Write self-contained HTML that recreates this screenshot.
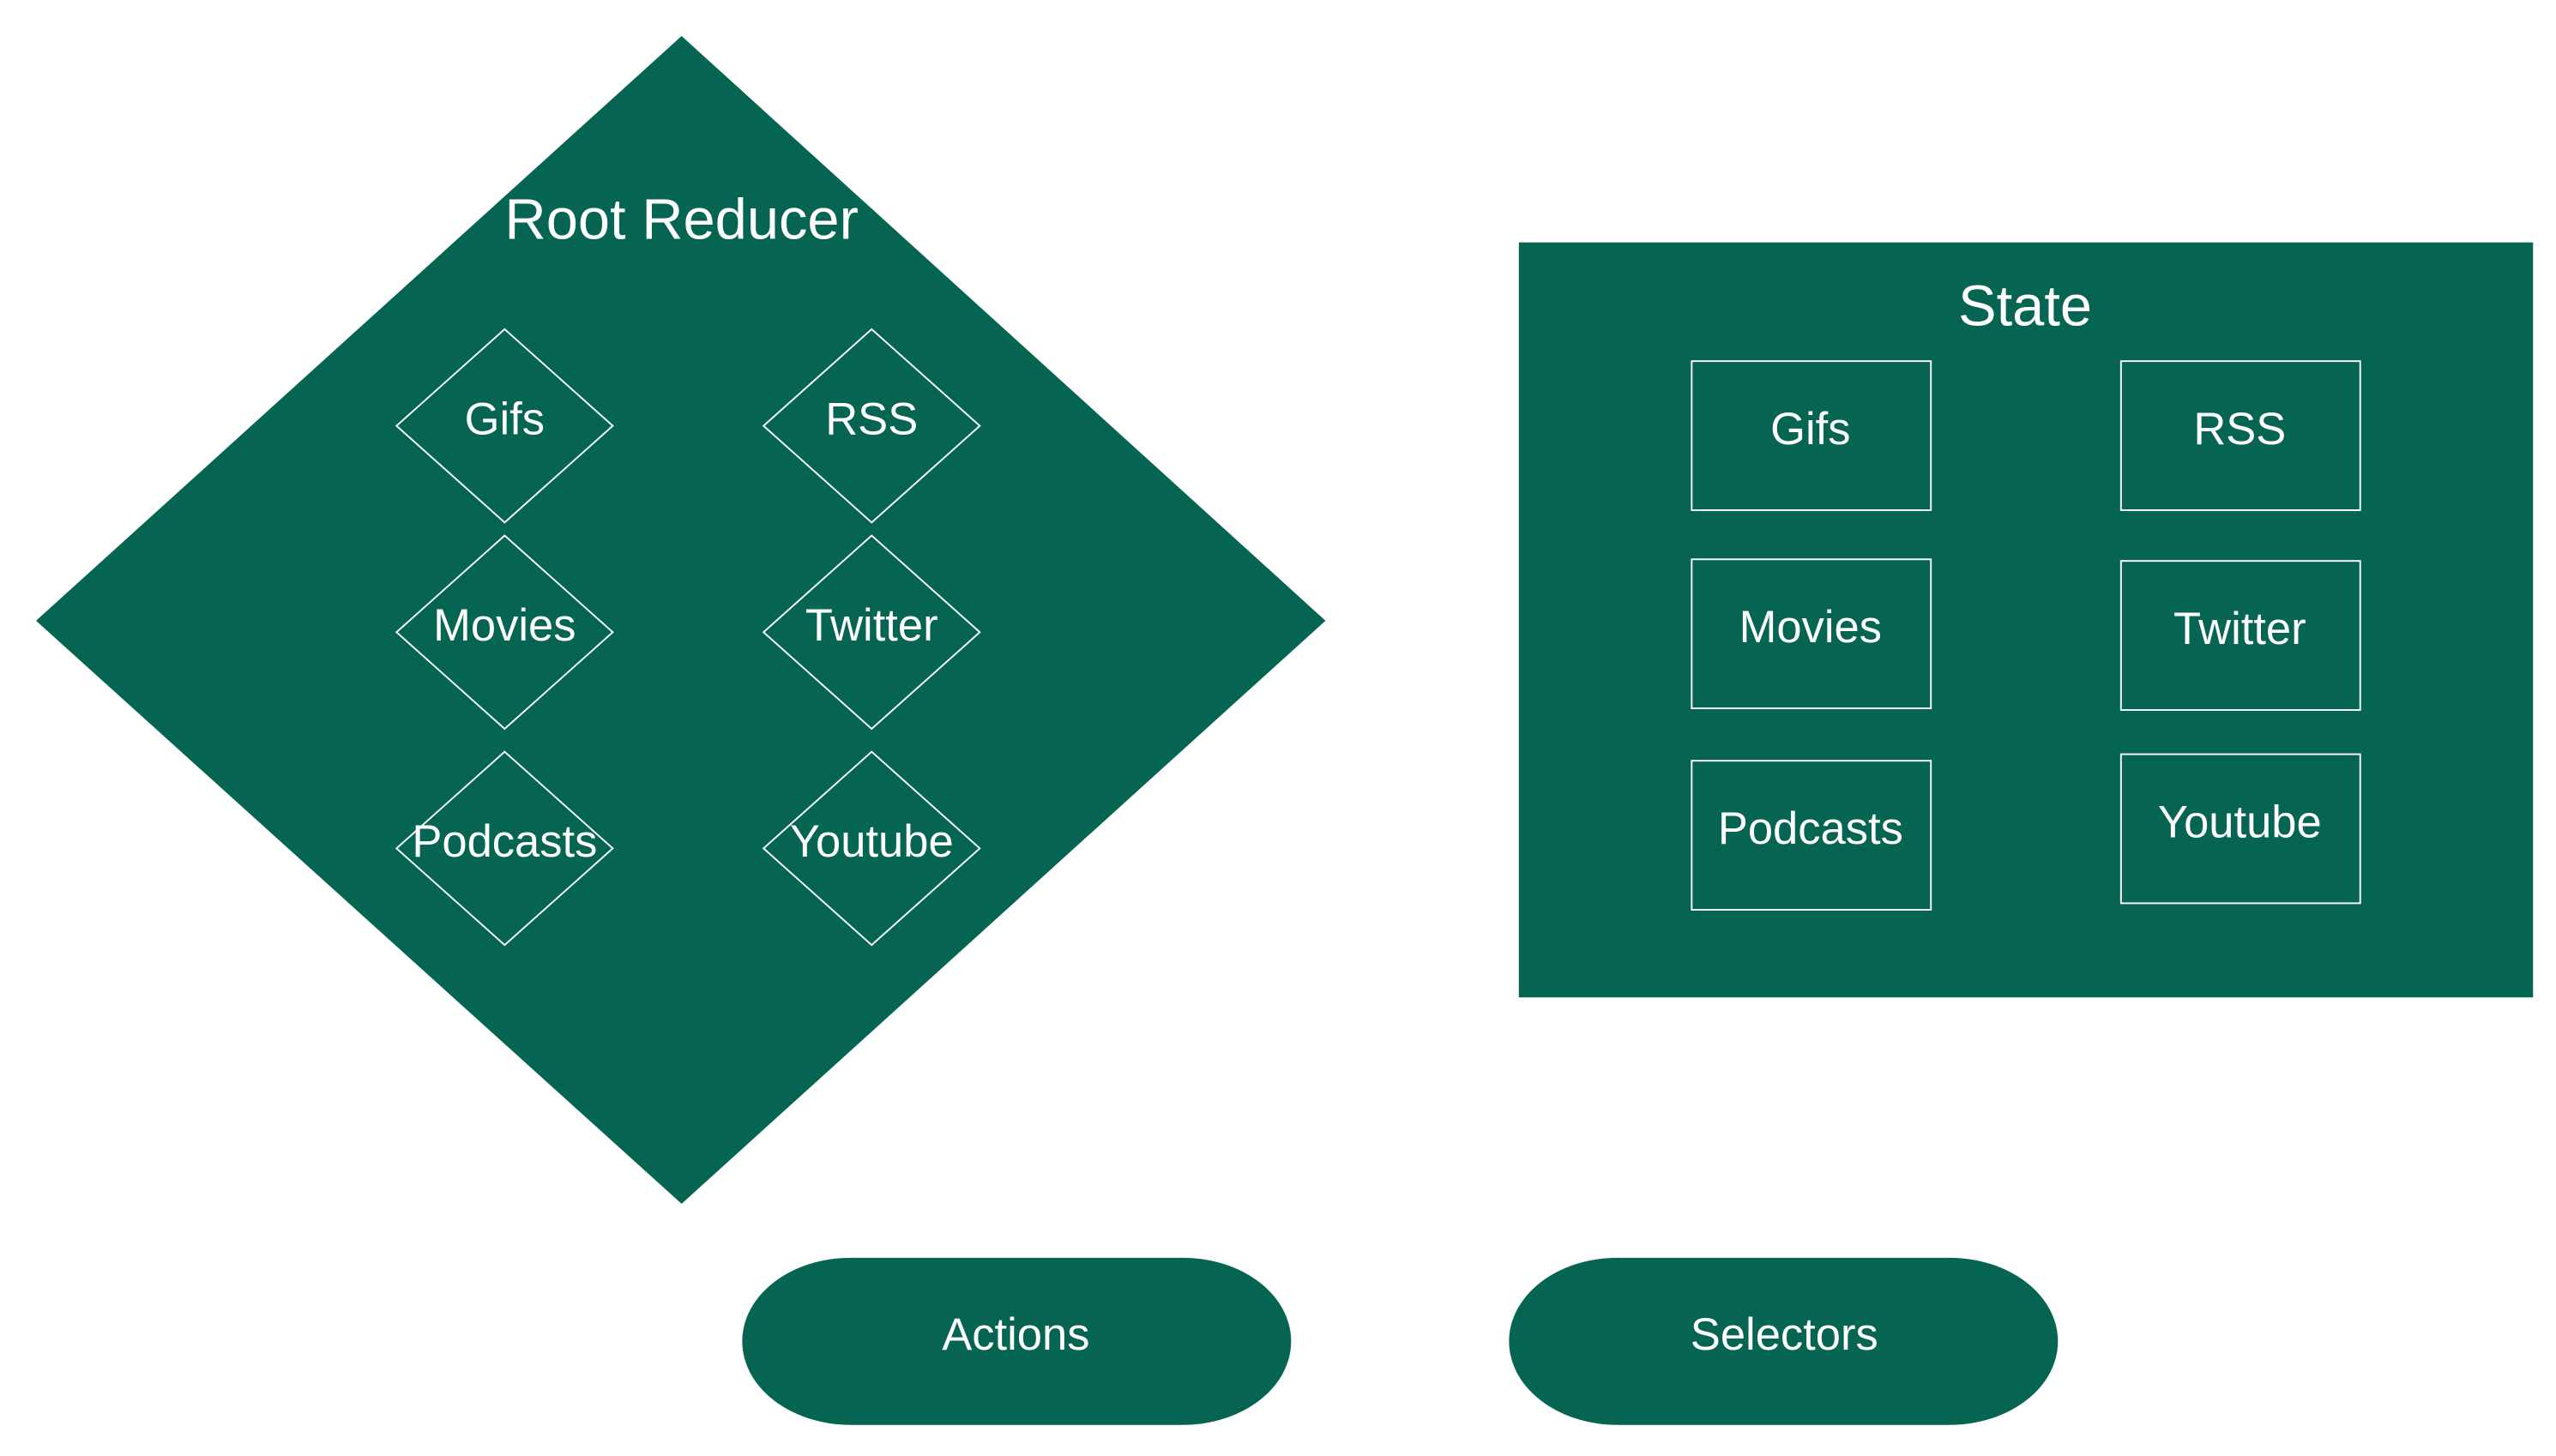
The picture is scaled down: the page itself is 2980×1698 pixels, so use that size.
<!DOCTYPE html>
<html><head><meta charset="utf-8"><style>
html,body{margin:0;padding:0;background:#fff;}
svg{display:block;}
text{font-family:"Liberation Sans",sans-serif;fill:#fff;text-anchor:middle;dominant-baseline:central;}
</style></head><body>
<svg width="2980" height="1698" viewBox="0 0 1560 889" preserveAspectRatio="none">
<polygon points="416,22 809,379 416,735 22,379" fill="#056552"/>
<text x="416" y="134" font-size="35">Root Reducer</text>
<g fill="none" stroke="#fff" stroke-width="1">
<polygon points="308,201 374,260 308,319 242,260"/>
<polygon points="532,201 598,260 532,319 466,260"/>
<polygon points="308,327 374,386 308,445 242,386"/>
<polygon points="532,327 598,386 532,445 466,386"/>
<polygon points="308,459 374,518 308,577 242,518"/>
<polygon points="532,459 598,518 532,577 466,518"/>
</g>
<g font-size="27.5">
<text x="308" y="256">Gifs</text>
<text x="532" y="256">RSS</text>
<text x="308" y="382">Movies</text>
<text x="532" y="382">Twitter</text>
<text x="308" y="514">Podcasts</text>
<text x="532" y="514">Youtube</text>
</g>
<rect x="927" y="148" width="619" height="461" fill="#056552"/>
<text x="1236" y="187" font-size="35">State</text>
<g fill="none" stroke="#fff" stroke-width="1">
<rect x="1032.5" y="220.5" width="146" height="91"/>
<rect x="1294.5" y="220.5" width="146" height="91"/>
<rect x="1032.5" y="341.5" width="146" height="91"/>
<rect x="1294.5" y="342.5" width="146" height="91"/>
<rect x="1032.5" y="464.5" width="146" height="91"/>
<rect x="1294.5" y="460.5" width="146" height="91"/>
</g>
<g font-size="27.5">
<text x="1105" y="262">Gifs</text>
<text x="1367" y="262">RSS</text>
<text x="1105" y="383">Movies</text>
<text x="1367" y="384">Twitter</text>
<text x="1105" y="506">Podcasts</text>
<text x="1367" y="502">Youtube</text>
</g>
<rect x="453" y="768" width="335" height="102" rx="66" ry="51" fill="#056552"/>
<rect x="921" y="768" width="335" height="102" rx="66" ry="51" fill="#056552"/>
<text x="620" y="815" font-size="27.5">Actions</text>
<text x="1089" y="815" font-size="27.5">Selectors</text>
</svg>
</body></html>
